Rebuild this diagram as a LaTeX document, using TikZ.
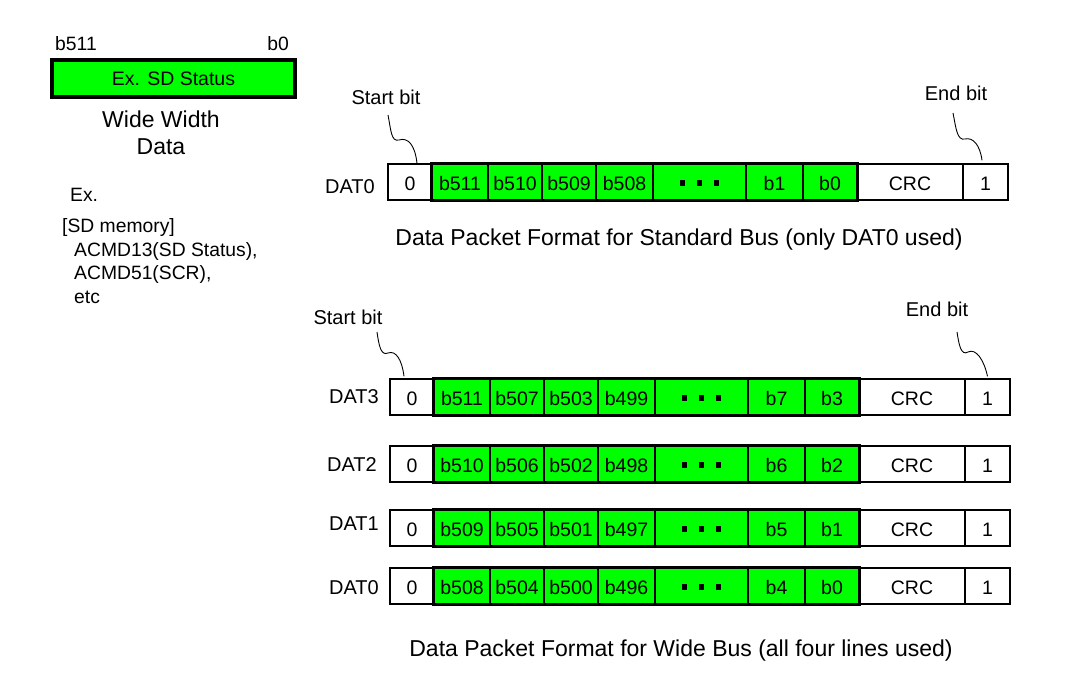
\documentclass[tikz,border=0pt]{standalone}
\usepackage{fontspec}
\setmainfont{Liberation Sans}
\definecolor{bitgreen}{HTML}{00FF00}
\tikzset{
  cell/.style={draw, line width=1.3pt, minimum height=36pt, inner sep=0pt, text height=17pt, text depth=0pt, font=\fontsize{19.5}{22}\selectfont},
  lbl/.style={inner sep=0pt, font=\fontsize{20}{22}\selectfont},
  small/.style={inner sep=0pt, font=\fontsize{19.3}{23}\selectfont},
  captxt/.style={inner sep=0pt, font=\fontsize{23}{27}\selectfont},
  wire/.style={line width=0.9pt},
  grp/.style={line width=2.4pt}
}
% #1 prefix, #2 x shift, #3 top y, #4-#9 bit labels
\newcommand\prow[9]{%
  \node[cell, fill=white, minimum width=44pt] (#1-0) at ({410+#2},{#3+18}) {0};
  \node[cell, fill=bitgreen, minimum width=56pt] (#1-1) at ({460+#2},{#3+18}) {#4};
  \node[cell, fill=bitgreen, minimum width=54pt] (#1-2) at ({515+#2},{#3+18}) {#5};
  \node[cell, fill=bitgreen, minimum width=54pt] (#1-3) at ({569+#2},{#3+18}) {#6};
  \node[cell, fill=bitgreen, minimum width=57pt] (#1-4) at ({624.5+#2},{#3+18}) {#7};
  \node[cell, fill=bitgreen, minimum width=93pt] (#1-5) at ({699.5+#2},{#3+18}) {};
  \node[cell, fill=bitgreen, minimum width=57pt] (#1-6) at ({774.5+#2},{#3+18}) {#8};
  \node[cell, fill=bitgreen, minimum width=54pt] (#1-7) at ({830+#2},{#3+18}) {#9};
  \node[cell, fill=white, minimum width=106pt] (#1-8) at ({910+#2},{#3+18}) {CRC};
  \node[cell, fill=white, minimum width=45pt] (#1-9) at ({985.5+#2},{#3+18}) {1};
  \draw[grp] (#1-1.north west) rectangle (#1-7.south east);
  \foreach \d in {-17,0,17} \fill ([xshift=\d pt,yshift=-1pt]#1-5.center) ++(-2.7,-2.7) rectangle ++(5.4,5.4);
}
\begin{document}
\begin{tikzpicture}[x=1pt,y=-1pt]
\useasboundingbox (0,0) rectangle (1083,672);
\fill[white] (0,0) rectangle (1083,672);

% top-left wide width data
\node[small] (hb511) at (76,44) {b511};
\node[small] (hb0) at (278,44) {b0};
\node[draw, line width=4pt, fill=bitgreen, minimum width=243pt, minimum height=37pt, inner sep=0pt,
      font=\fontsize{19.5}{22}\selectfont] (sdstat) at (173.5,78.5) {Ex. SD Status};
\node[captxt, align=center] (wwd) at (161,133) {Wide Width\\Data};
\node[small, anchor=west] (ex) at (70,195) {Ex.};
\node[small, anchor=west] (sdm) at (62,228) {[SD memory]};
\node[small, anchor=west] (acmd13) at (74,251) {ACMD13(SD Status),};
\node[small, anchor=west] (acmd51) at (74,274) {ACMD51(SCR),};
\node[small, anchor=west] (etc) at (74,297) {etc};

% standard bus
\prow{s}{0}{164}{b511}{b510}{b509}{b508}{b1}{b0}
\node[lbl] (sdat0) at (350,187) {DAT0};
\node[lbl] (sb1) at (386,97) {Start bit};
\node[lbl] (eb1) at (956,93) {End bit};
\draw[wire] (388,115) .. controls (391,130) and (391,142) .. (399,140)
  .. controls (408,137) and (415,145) .. ([xshift=7pt]s-0.north);
\draw[wire] (953,113) .. controls (956,128) and (957,141) .. (965,139)
  .. controls (973,137) and (980,145) .. ([xshift=-3.5pt,yshift=3pt]s-9.north);
\node[captxt] (capstd) at (679,240) {Data Packet Format for Standard Bus (only DAT0 used)};

% wide bus
\prow{w3}{2}{379}{b511}{b507}{b503}{b499}{b7}{b3}
\prow{w2}{2}{446}{b510}{b506}{b502}{b498}{b6}{b2}
\prow{w1}{2}{510}{b509}{b505}{b501}{b497}{b5}{b1}
\prow{w0}{2}{568}{b508}{b504}{b500}{b496}{b4}{b0}
\node[lbl] (ldat3) at (354,397) {DAT3};
\node[lbl] (ldat2) at (352,465) {DAT2};
\node[lbl] (ldat1) at (354,524) {DAT1};
\node[lbl] (ldat0) at (354,588) {DAT0};
\node[lbl] (sb2) at (348,317) {Start bit};
\node[lbl] (eb2) at (937,309) {End bit};
\draw[wire] (377,332) .. controls (379,346) and (381,356) .. (388,353)
  .. controls (396,350) and (402,360) .. ([xshift=-8pt,yshift=2pt]w3-0.north);
\draw[wire] (957,332) .. controls (959,345) and (961,356) .. (968,352)
  .. controls (976,348) and (984,360) .. ([xshift=0pt,yshift=2pt]w3-9.north);
\node[captxt] (capwide) at (681,651) {Data Packet Format for Wide Bus (all four lines used)};
\end{tikzpicture}
\end{document}
